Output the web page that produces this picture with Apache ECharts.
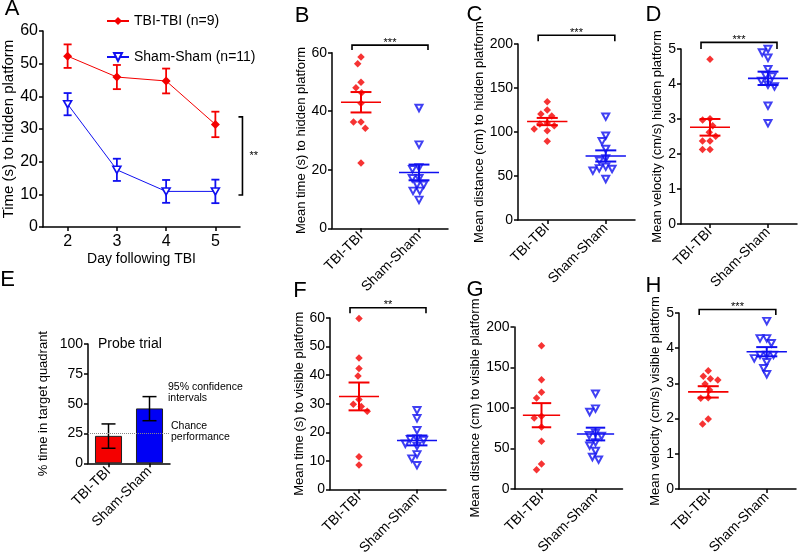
<!DOCTYPE html>
<html><head><meta charset="utf-8">
<script src="https://cdn.jsdelivr.net/npm/echarts@6/dist/echarts.min.js"></script>
<style>html,body{margin:0;padding:0;background:#fff}#c{width:800px;height:555px}</style>
</head><body><div id="c"></div>
<script>
// ---------- DATA ----------
const days = ['2', '3', '4', '5'];
const groups = ['TBI-TBI', 'Sham-Sham'];
const legendNames = ['TBI-TBI (n=9)', 'Sham-Sham (n=11)'];
// A: time to hidden platform (mean, SEM) per day
const aTbiMean = [52.3, 45.9, 44.7, 31.4];
const aTbiSem = [3.6, 3.7, 3.8, 3.9];
const aShamMean = [37.6, 17.5, 10.9, 10.9];
const aShamSem = [3.4, 3.4, 3.5, 3.6];
// B: mean time (s) to hidden platform
const bTbi = [58.5, 56.2, 49.9, 48.0, 46.3, 42.7, 36.3, 36.3, 34.2, 22.3];
const bSham = [41.1, 28.6, 20.8, 20.2, 17.1, 17.1, 14.9, 14.9, 12.8, 12.8, 9.7];
// C: mean distance (cm) to hidden platform
const cTbi = [134.5, 125.0, 120.5, 118.2, 110.2, 109.0, 107.2, 103.4, 101.5, 89.4];
const cSham = [117.4, 95.8, 89.4, 80.7, 70.0, 67.4, 60.6, 58.7, 58.0, 56.0, 46.6];
// D: mean velocity (cm/s) hidden platform
const dTbi = [4.71, 3.01, 2.97, 2.81, 2.62, 2.51, 2.37, 2.37, 2.13, 2.13];
const dSham = [5.0, 4.9, 4.75, 4.42, 4.24, 4.21, 4.09, 3.98, 3.93, 3.38, 2.88];
// E: % time in target quadrant (mean, 95% CI)
const eMean = [23.0, 46.0];
const eLow = [12.6, 35.7];
const eHigh = [33.0, 55.9];
const chanceLevel = 25;
// F: mean time (s) to visible platform
const fTbi = [59.8, 46.0, 42.3, 39.7, 31.5, 29.8, 29.0, 27.4, 11.5, 8.6];
const fSham = [27.7, 24.9, 20.7, 17.8, 17.6, 17.3, 16.0, 15.2, 12.3, 10.8, 8.5];
// G: mean distance (cm) to visible platform
const gTbi = [177.0, 135.0, 119.3, 112.3, 89.7, 87.7, 76.5, 58.8, 30.9, 23.9];
const gSham = [117.7, 99.2, 95.0, 69.1, 66.3, 65.4, 57.6, 53.5, 46.9, 39.5, 36.2];
// H: mean velocity (cm/s) visible platform
const hTbi = [3.36, 3.20, 3.13, 3.10, 2.98, 2.81, 2.59, 2.58, 1.99, 1.85];
const hSham = [4.77, 4.28, 4.28, 4.14, 3.81, 3.81, 3.81, 3.71, 3.60, 3.43, 3.26];

// ---------- HELPERS ----------
const FONT = '"Liberation Sans", Arial, sans-serif';
const RED = '#f40000', BLUE = '#1010f0';
const mean = a => a.reduce((s, v) => s + v, 0) / a.length;
const sem = a => { const m = mean(a); const v = a.reduce((s, x) => s + (x - m) * (x - m), 0) / (a.length - 1); return Math.sqrt(v / a.length); };

const series = [];
function axisLine() { return { show: true, onZero: false, lineStyle: { color: '#000', width: 1.5 } }; }
function axisTick(extra) { return Object.assign({ show: true, length: 4, inside: false, lineStyle: { color: '#000', width: 1.5 } }, extra || {}); }
function yAxis(gi, max, interval, name, nameGap, fs, nfs) {
  return { type: 'value', gridIndex: gi, min: 0, max: max, interval: interval, name: name, nameLocation: 'middle', nameGap: nameGap,
    nameTextStyle: { fontSize: nfs, color: '#000', fontFamily: FONT },
    axisLine: axisLine(), axisTick: axisTick(), splitLine: { show: false },
    axisLabel: { fontSize: fs, color: '#000', margin: 5, fontFamily: FONT } };
}
function xCat(gi, data, extra) {
  return Object.assign({ type: 'category', gridIndex: gi, data: data, boundaryGap: true,
    axisLine: axisLine(), axisTick: axisTick({ alignWithLabel: true }), splitLine: { show: false },
    axisLabel: { interval: 0, rotate: 45, fontSize: 14, color: '#000', margin: 6, fontFamily: FONT } }, extra || {});
}

function meanSemRender(params, api) {
  const x = api.value(0), m = api.value(1), s = api.value(2);
  const c = api.coord([x, m]), t = api.coord([x, m + s]), b = api.coord([x, m - s]);
  const bw = api.size([1, 0])[0];
  const col = params.dataIndex === 0 ? RED : BLUE;
  const hm = bw * 0.345, hc = bw * 0.18;
  return { type: 'group', children: [
    { type: 'line', shape: { x1: c[0] - hm, y1: c[1], x2: c[0] + hm, y2: c[1] }, style: { stroke: col, lineWidth: 1.6 } },
    { type: 'line', shape: { x1: c[0] - hc, y1: t[1], x2: c[0] + hc, y2: t[1] }, style: { stroke: col, lineWidth: 2 } },
    { type: 'line', shape: { x1: c[0] - hc, y1: b[1], x2: c[0] + hc, y2: b[1] }, style: { stroke: col, lineWidth: 2 } },
    { type: 'line', shape: { x1: c[0], y1: t[1], x2: c[0], y2: b[1] }, style: { stroke: col, lineWidth: 2 } }
  ] };
}
function bracketRender(sig) {
  return function (params, api) {
    const p1 = api.coord([api.value(0), api.value(1)]);
    const p2 = api.coord([api.value(3), api.value(1)]);
    const tk = api.coord([api.value(0), api.value(2)])[1];
    const bw = api.size([1, 0])[0];
    const x1 = p1[0] - bw * 0.155, x2 = p2[0] + bw * 0.155;
    return { type: 'group', children: [
      { type: 'polyline', shape: { points: [[x1, tk], [x1, p1[1]], [x2, p1[1]], [x2, tk]] }, style: { stroke: '#000', lineWidth: 1.6, fill: null } },
      { type: 'text', x: (x1 + x2) / 2, y: p1[1] + 3, style: { text: sig, fontSize: 11, fontFamily: FONT, fill: '#000', align: 'center', verticalAlign: 'bottom' } }
    ] };
  };
}

const allGrids = new Array(8), allX = new Array(8), allY = new Array(8);

// ---------- PANEL A ----------
allGrids[0] = { left: 43, top: 31, width: 197, height: 196 };
allX[0] = Object.assign(xCat(0, days), { axisLabel: { interval: 0, fontSize: 16, color: '#000', margin: 7, fontFamily: FONT },
  name: 'Day following TBI', nameLocation: 'middle', nameGap: 25, nameTextStyle: { fontSize: 14, color: '#000', fontFamily: FONT } });
allY[0] = yAxis(0, 60, 10, 'Time (s) to hidden platform', 24, 16, 15);
function errA(params, api) {
  const x = api.value(0), m = api.value(1), s = api.value(2);
  const t = api.coord([x, m + s]), b = api.coord([x, m - s]);
  const col = params.seriesIndex === 0 ? RED : BLUE;
  const hc = 4;
  return { type: 'group', children: [
    { type: 'line', shape: { x1: t[0], y1: t[1], x2: b[0], y2: b[1] }, style: { stroke: col, lineWidth: 1.8 } },
    { type: 'line', shape: { x1: t[0] - hc, y1: t[1], x2: t[0] + hc, y2: t[1] }, style: { stroke: col, lineWidth: 1.8 } },
    { type: 'line', shape: { x1: b[0] - hc, y1: b[1], x2: b[0] + hc, y2: b[1] }, style: { stroke: col, lineWidth: 1.8 } }
  ] };
}
series.push({ type: 'custom', xAxisIndex: 0, yAxisIndex: 0, renderItem: errA, clip: false, encode: { x: 0, y: 1 }, z: 2,
  data: aTbiMean.map((m, i) => [i, m, aTbiSem[i]]) });
series.push({ type: 'custom', xAxisIndex: 0, yAxisIndex: 0, renderItem: errA, clip: false, encode: { x: 0, y: 1 }, z: 2,
  data: aShamMean.map((m, i) => [i, m, aShamSem[i]]) });
series.push({ type: 'line', name: legendNames[0], xAxisIndex: 0, yAxisIndex: 0, data: aTbiMean, symbol: 'diamond', symbolSize: 9,
  itemStyle: { color: RED }, lineStyle: { color: RED, width: 1 }, z: 3 });
series.push({ type: 'line', name: legendNames[1], xAxisIndex: 0, yAxisIndex: 0, data: aShamMean, symbol: 'triangle', symbolRotate: 180, symbolSize: [8, 7],
  itemStyle: { color: '#fff', borderColor: BLUE, borderWidth: 1.6 }, lineStyle: { color: BLUE, width: 1 }, z: 3 });
series.push({ type: 'custom', xAxisIndex: 0, yAxisIndex: 0, clip: false, encode: { x: 0, y: [1, 2] }, data: [[3, 33.7, 9.8]],
  renderItem: function (params, api) {
    const p = api.coord([api.value(0), api.value(1)]), q = api.coord([api.value(0), api.value(2)]);
    const bw = api.size([1, 0])[0];
    const x = p[0] + bw * 0.55;
    return { type: 'group', children: [
      { type: 'polyline', shape: { points: [[x - 4, p[1]], [x, p[1]], [x, q[1]], [x - 4, q[1]]] }, style: { stroke: '#000', lineWidth: 1.6, fill: null } },
      { type: 'text', x: x + 7, y: (p[1] + q[1]) / 2, style: { text: '**', fontSize: 11, fontFamily: FONT, fill: '#000', align: 'left', verticalAlign: 'middle' } }
    ] };
  } });

// ---------- SCATTER PANELS ----------
const scatterPanels = [
  { gi: 1, tbi: bTbi, sham: bSham, grid: { left: 332, top: 52.7, width: 116, height: 175.6 }, max: 60, interval: 20, name: 'Mean time (s) to hidden platform', nameGap: 15, sig: '***', sigY: 62.6, sigTick: 60.9 },
  { gi: 2, tbi: cTbi, sham: cSham, grid: { left: 518, top: 44, width: 117, height: 176 }, max: 200, interval: 50, name: 'Mean distance (cm) to hidden platform', nameGap: 29, sig: '***', sigY: 210, sigTick: 203 },
  { gi: 3, tbi: dTbi, sham: dSham, grid: { left: 681, top: 49, width: 116, height: 175 }, max: 5, interval: 1, name: 'Mean velocity (cm/s) hidden platform', nameGap: 13, sig: '***', sigY: 5.19, sigTick: 5.0 },
  { gi: 5, tbi: fTbi, sham: fSham, grid: { left: 330, top: 318, width: 116, height: 171.5 }, max: 60, interval: 10, name: 'Mean time (s) to visible platform', nameGap: 20, sig: '**', sigY: 63.6, sigTick: 61.7 },
  { gi: 6, tbi: gTbi, sham: gSham, grid: { left: 514.5, top: 327, width: 108, height: 162 }, max: 200, interval: 50, name: 'Mean distance (cm) to visible platform', nameGap: 27, sig: null },
  { gi: 7, tbi: hTbi, sham: hSham, grid: { left: 679, top: 313, width: 117, height: 176 }, max: 5, interval: 1, name: 'Mean velocity (cm/s) visible platform', nameGap: 16, sig: '***', sigY: 5.1, sigTick: 4.94 }
];

scatterPanels.forEach(p => {
  allGrids[p.gi] = p.grid;
  allX[p.gi] = xCat(p.gi, groups, { jitter: 34, jitterOverlap: false, jitterMargin: 0 });
  allY[p.gi] = yAxis(p.gi, p.max, p.interval, p.name, p.nameGap, 14, 13);
  series.push({ type: 'scatter', xAxisIndex: p.gi, yAxisIndex: p.gi, data: p.tbi.map(v => [0, v]), symbol: 'diamond', symbolSize: 7.5, itemStyle: { color: RED }, z: 3 });
  series.push({ type: 'scatter', xAxisIndex: p.gi, yAxisIndex: p.gi, data: p.sham.map(v => [1, v]), symbol: 'triangle', symbolRotate: 180, symbolSize: [7, 6.5],
    itemStyle: { color: '#fff', borderColor: BLUE, borderWidth: 2 }, z: 3 });
  series.push({ type: 'custom', xAxisIndex: p.gi, yAxisIndex: p.gi, clip: false, encode: { x: 0, y: 1 }, renderItem: meanSemRender, z: 4,
    data: [[0, mean(p.tbi), sem(p.tbi)], [1, mean(p.sham), sem(p.sham)]] });
  if (p.sig) {
    series.push({ type: 'custom', xAxisIndex: p.gi, yAxisIndex: p.gi, clip: false, encode: { x: [0, 3], y: [1, 2] }, renderItem: bracketRender(p.sig),
      data: [[0, p.sigY, p.sigTick, 1]] });
  }
});

// ---------- PANEL E ----------
allGrids[4] = { left: 88, top: 344, width: 82, height: 119.3 };
allX[4] = xCat(4, groups);
allY[4] = yAxis(4, 100, 25, '% time in target quadrant', 38, 14, 13);
series.push({ type: 'bar', xAxisIndex: 4, yAxisIndex: 4, barWidth: '66%',
  data: eMean.map((v, i) => ({ value: v, itemStyle: { color: i === 0 ? RED : '#0000f5', borderColor: '#202020', borderWidth: 1 } })),
  markLine: { silent: true, symbol: 'none', label: { show: false }, lineStyle: { color: '#888', type: 'dotted', width: 1 }, data: [{ yAxis: chanceLevel }] },
  z: 2 });
series.push({ type: 'custom', xAxisIndex: 4, yAxisIndex: 4, clip: false, encode: { x: 0, y: [1, 2] }, z: 4,
  data: eLow.map((l, i) => [i, l, eHigh[i]]),
  renderItem: function (params, api) {
    const t = api.coord([api.value(0), api.value(2)]), b = api.coord([api.value(0), api.value(1)]);
    const hc = 7;
    return { type: 'group', children: [
      { type: 'line', shape: { x1: t[0], y1: t[1], x2: b[0], y2: b[1] }, style: { stroke: '#000', lineWidth: 1.5 } },
      { type: 'line', shape: { x1: t[0] - hc, y1: t[1], x2: t[0] + hc, y2: t[1] }, style: { stroke: '#000', lineWidth: 1.5 } },
      { type: 'line', shape: { x1: b[0] - hc, y1: b[1], x2: b[0] + hc, y2: b[1] }, style: { stroke: '#000', lineWidth: 1.5 } }
    ] };
  } });

allGrids.forEach(g => { g.containLabel = false; g.outerBoundsMode = 'none'; });

function txt(x, y, s, size, align) {
  return { type: 'text', x: x, y: y, silent: true, style: { text: s, fontSize: size, fontFamily: FONT, fill: '#000', align: align || 'center', verticalAlign: 'middle' } };
}
const graphics = [
  txt(12, 9, 'A', 22), txt(302, 15.5, 'B', 22), txt(474.5, 14.5, 'C', 22), txt(653.5, 14.5, 'D', 22),
  txt(7.5, 280, 'E', 22), txt(300, 290.5, 'F', 22), txt(475, 289.5, 'G', 22), txt(653.5, 285.5, 'H', 22),
  txt(98, 344, 'Probe trial', 14, 'left'),
  txt(168, 387.5, '95% confidence', 10.5, 'left'), txt(168, 398.5, 'intervals', 10.5, 'left'),
  txt(171, 426, 'Chance', 10.5, 'left'), txt(171, 437, 'performance', 10.5, 'left')
];

const chart = echarts.init(document.getElementById('c'), null, { renderer: 'canvas' });
chart.setOption({
  animation: false,
  backgroundColor: '#fff',
  textStyle: { fontFamily: FONT },
  grid: allGrids,
  xAxis: allX,
  yAxis: allY,
  legend: { data: legendNames, orient: 'vertical', left: 101, top: 9, itemGap: 22, itemWidth: 22, itemHeight: 10,
    textStyle: { fontSize: 14, color: '#000', fontFamily: FONT }, selectedMode: false },
  graphic: graphics,
  series: series
});
</script>
</body></html>
